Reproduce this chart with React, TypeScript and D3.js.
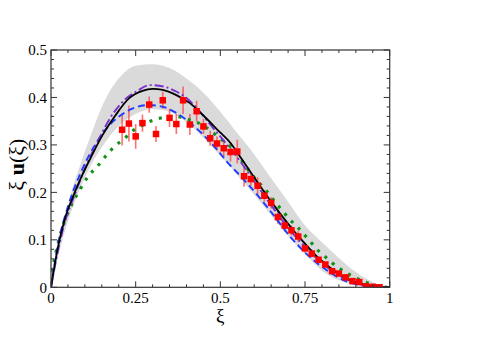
import React from "react";
import * as d3 from "d3";

// ---- data ----
const dataXi = [0.21,0.23,0.25,0.27,0.29,0.31,0.33,0.35,0.37,0.39,0.41,0.43,0.45,0.47,0.49,0.51,0.53,0.55,0.57,0.59,0.61,0.63,0.65,0.67,0.69,0.71,0.73,0.75,0.77,0.79,0.81,0.83,0.85,0.87,0.89,0.91,0.93,0.95,0.97];
const dataVal = [0.332,0.345,0.318,0.346,0.385,0.323,0.394,0.357,0.344,0.394,0.343,0.371,0.339,0.314,0.303,0.293,0.285,0.286,0.234,0.228,0.214,0.193,0.178,0.148,0.130,0.120,0.107,0.082,0.071,0.058,0.048,0.034,0.029,0.021,0.013,0.011,0.002,0.001,0.000];
const dataErr = [0.033,0.038,0.026,0.018,0.017,0.017,0.018,0.019,0.021,0.029,0.022,0.022,0.016,0.016,0.015,0.018,0.02,0.025,0.022,0.014,0.018,0.012,0.012,0.014,0.013,0.011,0.011,0.009,0.008,0.006,0.005,0.005,0.004,0.003,0.003,0.002,0.002,0.001,0.001];

const blackXi = [0,0.02,0.04,0.065,0.09,0.12,0.15,0.19,0.23,0.27,0.30,0.33,0.37,0.41,0.45,0.49,0.53,0.565,0.61,0.66,0.71,0.74,0.785,0.834,0.883,0.932,0.97,1];
const blackVal = [0,0.083,0.142,0.191,0.233,0.277,0.318,0.362,0.398,0.414,0.418,0.416,0.405,0.388,0.362,0.333,0.304,0.268,0.221,0.171,0.125,0.100,0.065,0.036,0.015,0.005,0.001,0];

const purpleXi = [0,0.02,0.04,0.07,0.10,0.14,0.174,0.213,0.253,0.292,0.332,0.371,0.40,0.43,0.47,0.51,0.56,0.61,0.66,0.71,0.76,0.81,0.86,0.91,0.96,1];
const purpleVal = [0,0.075,0.135,0.195,0.25,0.31,0.356,0.392,0.413,0.426,0.423,0.412,0.399,0.378,0.343,0.309,0.264,0.213,0.163,0.117,0.078,0.045,0.021,0.007,0.001,0];

const blueXi = [0,0.02,0.05,0.09,0.13,0.174,0.213,0.253,0.29,0.332,0.371,0.41,0.45,0.489,0.519,0.568,0.617,0.656,0.706,0.755,0.814,0.873,0.93,1];
const blueVal = [0,0.088,0.17,0.245,0.3,0.343,0.366,0.380,0.384,0.380,0.367,0.347,0.321,0.291,0.265,0.228,0.188,0.153,0.107,0.070,0.036,0.012,0.003,0];

const greenXi = [0,0.005,0.01,0.017,0.024,0.032,0.041,0.053,0.066,0.081,0.095,0.113,0.134,0.153,0.173,0.193,0.218,0.238,0.264,0.29,0.32,0.349,0.379,0.408,0.436,0.462,0.485,0.509,0.529,0.55,0.57,0.59,0.609,0.629,0.647,0.664,0.684,0.703,0.725,0.745,0.765,0.785,0.807,0.829,0.853,0.878,0.905,0.932,0.961,0.993];
const greenVal = [0.012,0.039,0.059,0.081,0.102,0.121,0.142,0.162,0.182,0.200,0.218,0.237,0.252,0.269,0.286,0.300,0.314,0.328,0.339,0.349,0.356,0.359,0.359,0.353,0.346,0.335,0.322,0.308,0.297,0.281,0.260,0.240,0.224,0.209,0.193,0.177,0.161,0.144,0.129,0.113,0.097,0.080,0.066,0.052,0.039,0.028,0.018,0.010,0.003,0];

const bandXi = [0,0.03,0.06,0.09,0.12,0.15,0.175,0.2,0.25,0.3,0.35,0.4,0.45,0.5,0.55,0.6,0.65,0.7,0.75,0.8,0.85,0.9,0.95,0.98,1];
const bandUpper = [0,0.11,0.2,0.265,0.325,0.38,0.415,0.44,0.467,0.47,0.462,0.44,0.41,0.37,0.325,0.28,0.23,0.18,0.13,0.095,0.062,0.032,0.011,0.002,0];
const bandLower = [0,0.09,0.16,0.215,0.26,0.295,0.32,0.34,0.365,0.375,0.37,0.348,0.315,0.277,0.237,0.195,0.152,0.108,0.07,0.035,0.015,0.006,0.001,0,0];

const xTickLabels = ["0", "0.25", "0.5", "0.75", "1"];
const xTickVals = [0, 0.25, 0.5, 0.75, 1];
const yTickLabels = ["0", "0.1", "0.2", "0.3", "0.4", "0.5"];
const yTickVals = [0, 0.1, 0.2, 0.3, 0.4, 0.5];

const W = 480, H = 339;
const L = 51, R = 389.7, T = 50, B = 287.3;

export default function App() {
  const x = d3.scaleLinear().domain([0, 1]).range([L, R]);
  const y = d3.scaleLinear().domain([0, 0.5]).range([B, T]);

  const mkLine = (xs: number[], ys: number[]) =>
    d3.line<number>().x((_, i) => x(xs[i])).y((v) => y(v)).curve(d3.curveMonotoneX)(ys) || "";

  const bandPath = d3.area<number>()
    .x((_, i) => x(bandXi[i]))
    .y0((_, i) => y(bandLower[i]))
    .y1((v) => y(v))
    .curve(d3.curveMonotoneX)(bandUpper) || "";

  const xMinor = d3.range(0, 1.0001, 0.05);
  const yMinor = d3.range(0, 0.5001, 0.02);
  const isMajorX = (v: number) => Math.abs(v / 0.25 - Math.round(v / 0.25)) < 1e-6;
  const isMajorY = (v: number) => Math.abs(v / 0.1 - Math.round(v / 0.1)) < 1e-6;

  const font = "'Liberation Serif', 'Times New Roman', serif";
  const axisCol = "#333";
  const sq = 6.5;

  return (
    <svg width={W} height={H} style={{ position: "absolute", left: 0, top: 0, background: "#fff" }}>
      <rect x={0} y={0} width={W} height={H} fill="#fff" />
      <defs>
        <clipPath id="plot">
          <rect x={L} y={T} width={R - L} height={B - T} />
        </clipPath>
      </defs>
      <g clipPath="url(#plot)">
        <path d={bandPath} fill="#dadada" stroke="none" />
        {dataXi.map((xi, i) => (
          <line key={"e" + i} x1={x(xi)} x2={x(xi)} y1={y(dataVal[i] - dataErr[i])} y2={y(dataVal[i] + dataErr[i])}
            stroke="#ff4040" strokeOpacity={0.75} strokeWidth={1.6} />
        ))}
        <path d={mkLine(greenXi, greenVal)} fill="none" stroke="#11921a" strokeWidth={3.2} strokeDasharray="3 6.8" />
        <path d={mkLine(blueXi, blueVal)} fill="none" stroke="#1f3cff" strokeWidth={1.9} strokeDasharray="7 4" />
        <path d={mkLine(purpleXi, purpleVal)} fill="none" stroke="#7a2fd0" strokeWidth={1.9} strokeDasharray="9 3 2 3" />
        <path d={mkLine(blackXi, blackVal)} fill="none" stroke="#000" strokeWidth={1.8} />
        {dataXi.map((xi, i) => (
          <rect key={"s" + i} x={x(xi) - sq / 2} y={y(dataVal[i]) - sq / 2} width={sq} height={sq} fill="#ff0000" />
        ))}
      </g>
      {/* frame */}
      <rect x={L} y={T} width={R - L} height={B - T} fill="none" stroke={axisCol} strokeWidth={1.2} />
      {/* ticks */}
      {xMinor.map((v, i) => {
        const len = isMajorX(v) ? 6 : 3;
        return (
          <g key={"xt" + i} stroke={axisCol} strokeWidth={1}>
            <line x1={x(v)} x2={x(v)} y1={B} y2={B - len} />
            <line x1={x(v)} x2={x(v)} y1={T} y2={T + len} />
          </g>
        );
      })}
      {yMinor.map((v, i) => {
        const len = isMajorY(v) ? 6 : 3;
        return (
          <g key={"yt" + i} stroke={axisCol} strokeWidth={1}>
            <line x1={L} x2={L + len} y1={y(v)} y2={y(v)} />
            <line x1={R} x2={R - len} y1={y(v)} y2={y(v)} />
          </g>
        );
      })}
      {xTickVals.map((v, i) => (
        <text key={"xl" + i} x={x(v)} y={B + 15.5} textAnchor="middle" fontFamily={font} fontSize={15} fill="#000">
          {xTickLabels[i]}
        </text>
      ))}
      {yTickVals.map((v, i) => (
        <text key={"yl" + i} x={L - 4} y={y(v) + 5.3} textAnchor="end" fontFamily={font} fontSize={15} fill="#000">
          {yTickLabels[i]}
        </text>
      ))}
      <text x={(L + R) / 2} y={322} textAnchor="middle" fontFamily={font} fontSize={19} fill="#000">ξ</text>
      <text transform={`translate(24, ${(T + B) / 2 - 4}) rotate(-90)`} textAnchor="middle" fontFamily={font} fontSize={22} fill="#000">
        ξ <tspan fontWeight="bold">u</tspan>(ξ)
      </text>
    </svg>
  );
}
